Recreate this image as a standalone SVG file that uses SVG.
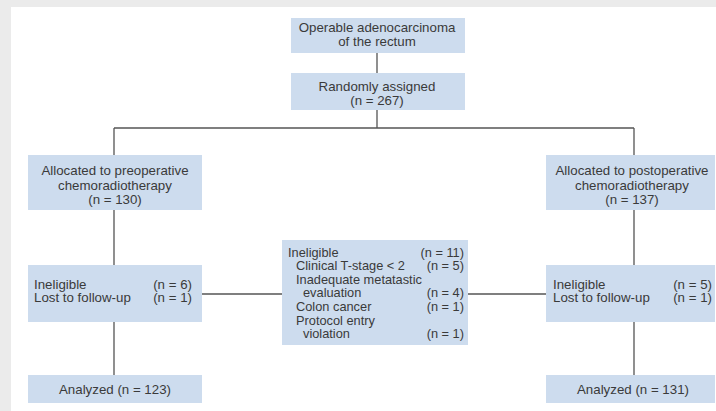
<svg xmlns="http://www.w3.org/2000/svg" width="716" height="411" viewBox="0 0 716 411">
<style>
.box{fill:#cddcee}
.t{font-family:"Liberation Sans",Arial,sans-serif;font-size:13.3px;fill:#3a3a3a}
.s{font-family:"Liberation Sans",Arial,sans-serif;font-size:12.8px;fill:#3a3a3a}
.c{text-anchor:middle}
.e{text-anchor:end}
.ln{stroke:#555;stroke-width:1.3;fill:none}
</style>
<rect width="716" height="411" fill="#ebebeb"/>
<rect x="11" y="7" width="705" height="404" fill="#ffffff"/>
<g id="connectors" class="ln">
<path d="M377 53V73M377 110V128M114 128H634M114 128V155M634 128V155M114 210V265M634 210V265M114 322V375M634 322V375M202 294H282M468 294H546"/>
</g>
<g id="n1"><rect class="box" x="291" y="18" width="174" height="35"/>
<text class="t c" x="377" y="31.5">Operable adenocarcinoma</text>
<text class="t c" x="377" y="45.5">of the rectum</text></g>
<g id="n2"><rect class="box" x="291" y="73" width="174" height="37"/>
<text class="t c" x="377" y="90.5">Randomly assigned</text>
<text class="t c" x="377" y="104.5">(n = 267)</text></g>
<g id="n3"><rect class="box" x="28" y="155" width="174" height="55"/>
<text class="t c" x="115" y="175">Allocated to preoperative</text>
<text class="t c" x="115" y="189.5">chemoradiotherapy</text>
<text class="t c" x="115" y="204">(n = 130)</text></g>
<g id="n4"><rect class="box" x="546" y="155" width="169" height="55"/>
<text class="t c" x="632" y="175">Allocated to postoperative</text>
<text class="t c" x="632" y="189.5">chemoradiotherapy</text>
<text class="t c" x="632" y="204">(n = 137)</text></g>
<g id="n5"><rect class="box" x="28" y="265" width="174" height="57"/>
<text class="t" x="34" y="288.5">Ineligible</text><text class="t e" x="192" y="288.5">(n = 6)</text>
<text class="t" x="34" y="302">Lost to follow-up</text><text class="t e" x="192" y="302">(n = 1)</text></g>
<g id="n6"><rect class="box" x="282" y="240" width="186" height="105"/>
<text class="s" x="288" y="256.5">Ineligible</text><text class="s e" x="464" y="256.5">(n = 11)</text>
<text class="s" x="296" y="270">Clinical T-stage &lt; 2</text><text class="s e" x="464" y="270">(n = 5)</text>
<text class="s" x="296" y="283.5">Inadequate metatastic</text>
<text class="s" x="303" y="297">evaluation</text><text class="s e" x="464" y="297">(n = 4)</text>
<text class="s" x="296" y="311">Colon cancer</text><text class="s e" x="464" y="311">(n = 1)</text>
<text class="s" x="296" y="324.5">Protocol entry</text>
<text class="s" x="303" y="338">violation</text><text class="s e" x="464" y="338">(n = 1)</text></g>
<g id="n7"><rect class="box" x="546" y="265" width="169" height="57"/>
<text class="t" x="553" y="288.5">Ineligible</text><text class="t e" x="712" y="288.5">(n = 5)</text>
<text class="t" x="553" y="302">Lost to follow-up</text><text class="t e" x="712" y="302">(n = 1)</text></g>
<g id="n8"><rect class="box" x="28" y="375" width="174" height="28"/>
<text class="t c" x="115" y="393.5">Analyzed (n = 123)</text></g>
<g id="n9"><rect class="box" x="546" y="375" width="169" height="28"/>
<text class="t c" x="633" y="393.5">Analyzed (n = 131)</text></g>
</svg>
